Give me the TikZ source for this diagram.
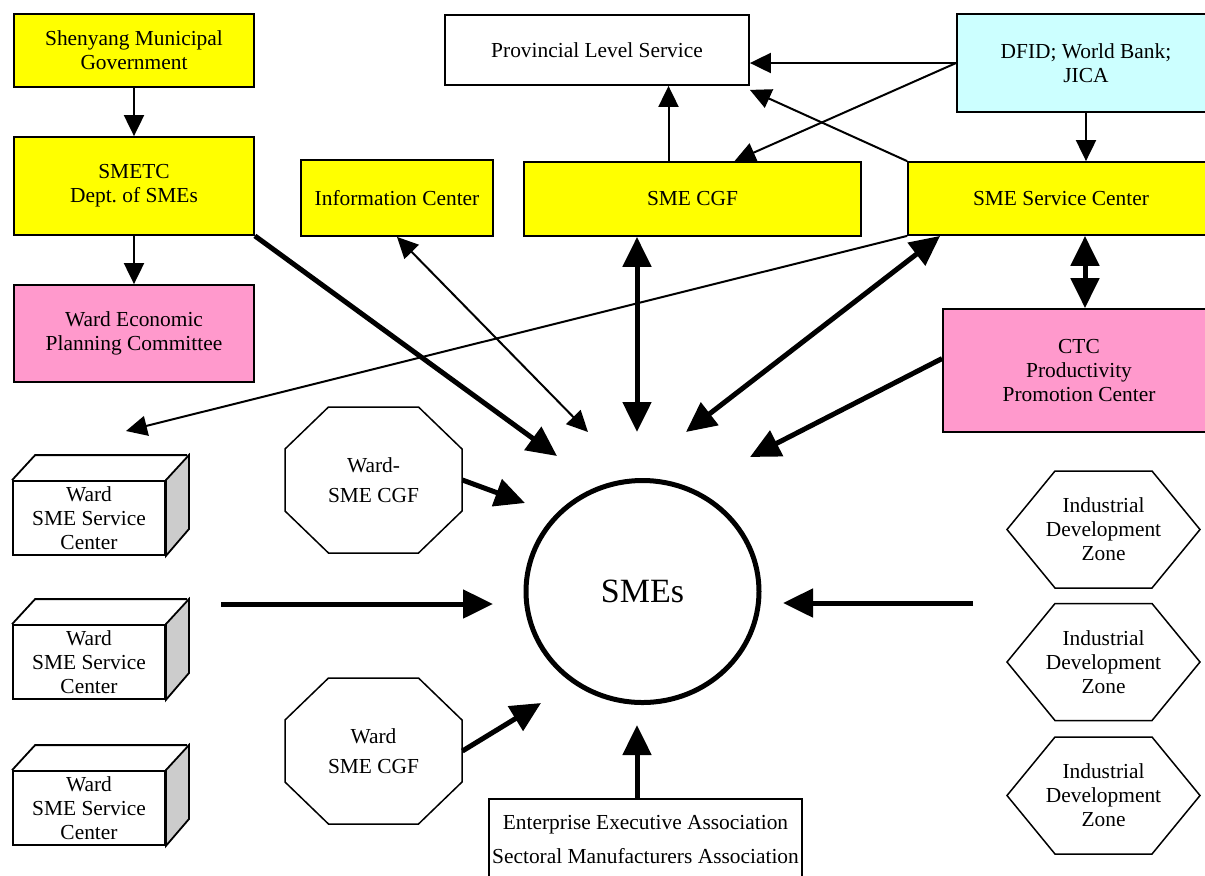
\documentclass[tikz,border=0pt]{standalone}
\usepackage{fontspec}
\setmainfont{Liberation Serif}
\usetikzlibrary{arrows.meta, shapes.geometric, calc}

\definecolor{smeyellow}{HTML}{FFFF00}
\definecolor{smepink}{HTML}{FF99CC}
\definecolor{smecyan}{HTML}{CCFFFF}
\definecolor{sidegray}{HTML}{CCCCCC}

\begin{document}
\begin{tikzpicture}[
  x=0.5pt, y=-0.5pt,
  every node/.style={font=\fontsize{10.7}{12}\selectfont, align=center},
  box/.style={draw, rectangle, line width=0.9pt, inner sep=1pt},
  ybox/.style={box, fill=smeyellow},
  pbox/.style={box, fill=smepink},
  cgfoct/.style={minimum width=88.5pt, minimum height=73pt},
  outline/.style={line width=0.75pt},
  thin arrow/.style={line width=1pt, -{Triangle[length=10.5pt,width=10pt]}},
  thin both/.style={line width=1pt, {Triangle[length=10.5pt,width=10pt]}-{Triangle[length=10.5pt,width=10pt]}},
  thick arrow/.style={line width=2.5pt, -{Triangle[length=15pt,width=14pt]}},
  thick both/.style={line width=2.5pt, {Triangle[length=15pt,width=14pt]}-{Triangle[length=15pt,width=14pt]}}]

  \useasboundingbox (0,0) rectangle (1205,875);

  % top left column
  \node[ybox, minimum width=120pt, minimum height=36.5pt] (gov) at (134,50.5) {Shenyang Municipal\\Government};
  \node[ybox, minimum width=120pt, minimum height=49pt] (smetc) at (134,186) {SMETC\\Dept.\ of SMEs};
  \node[pbox, minimum width=120pt, minimum height=48.5pt] (wepc) at (134,333.5) {Ward Economic\\Planning Committee};

  % top row
  \node[box, minimum width=152pt, minimum height=35pt] (prov) at (597,50) {Provincial Level Service};
  \node[box, fill=smecyan, minimum width=129pt, minimum height=49pt] (dfid) at (1086,63) {DFID; World Bank;\\JICA};
  \node[ybox, minimum width=96pt, minimum height=38pt] (info) at (397,198) {Information Center};
  \node[ybox, minimum width=168.5pt, minimum height=37pt] (cgf) at (692.5,199) {SME CGF};
  \node[ybox, minimum width=153pt, minimum height=36.5pt] (ssc) at (1061,198.5) {SME Service Center};
  \node[pbox, minimum width=136pt, minimum height=61.5pt] (ctc) at (1079,370.5) {CTC\\Productivity\\Promotion Center};

  % centre
  \node[draw, ellipse, line width=2.5pt, minimum width=116.5pt, minimum height=111pt,
    font=\fontsize{17}{20}\selectfont] (smes) at (642.5,591.5) {SMEs};

  % ward service centers
  \node[box, minimum width=76pt, minimum height=37pt] (wsc1) at (89,518) {Ward\\SME Service\\Center};
  \node[box, minimum width=76pt, minimum height=37pt] (wsc2) at (89,662) {Ward\\SME Service\\Center};
  \node[box, minimum width=76pt, minimum height=37pt] (wsc3) at (89,808) {Ward\\SME Service\\Center};
  \draw[line width=0.9pt, fill=sidegray] (wsc1.north east) -- ++(23,-25) -- ++(0,74) -- (wsc1.south east) -- cycle;
  \draw[line width=0.9pt] (wsc1.north west) -- ++(23,-25) -- ++(152,0);
  \draw[line width=0.9pt, fill=sidegray] (wsc2.north east) -- ++(23,-25) -- ++(0,74) -- (wsc2.south east) -- cycle;
  \draw[line width=0.9pt] (wsc2.north west) -- ++(23,-25) -- ++(152,0);
  \draw[line width=0.9pt, fill=sidegray] (wsc3.north east) -- ++(23,-25) -- ++(0,74) -- (wsc3.south east) -- cycle;
  \draw[line width=0.9pt] (wsc3.north west) -- ++(23,-25) -- ++(152,0);

  % ward CGFs
  \node[cgfoct] (wcgf1) at (373.5,480) {Ward-\\[3pt]SME CGF};
  \node[cgfoct] (wcgf2) at (373.5,751) {Ward\\[3pt]SME CGF};
  \draw[outline] ($(wcgf1.center)+(-88.5,-31)$) -- ++(43.5,-42) -- ++(90,0) -- ++(43.5,42) -- ++(0,62) -- ++(-43.5,42) -- ++(-90,0) -- ++(-43.5,-42) -- cycle;
  \draw[outline] ($(wcgf2.center)+(-88.5,-31)$) -- ++(43.5,-42) -- ++(90,0) -- ++(43.5,42) -- ++(0,62) -- ++(-43.5,42) -- ++(-90,0) -- ++(-43.5,-42) -- cycle;

  % industrial zones
  \node (idz1) at (1103.5,529.5) {Industrial\\Development\\Zone};
  \node (idz2) at (1103.5,662) {Industrial\\Development\\Zone};
  \node (idz3) at (1103.5,795.5) {Industrial\\Development\\Zone};
  \draw[outline] ($(idz1.center)+(-96.5,0)$) -- ++(48,-58.5) -- ++(97,0) -- ++(48,58.5) -- ++(-48,58.5) -- ++(-97,0) -- cycle;
  \draw[outline] ($(idz2.center)+(-96.5,0)$) -- ++(48,-58.5) -- ++(97,0) -- ++(48,58.5) -- ++(-48,58.5) -- ++(-97,0) -- cycle;
  \draw[outline] ($(idz3.center)+(-96.5,0)$) -- ++(48,-58.5) -- ++(97,0) -- ++(48,58.5) -- ++(-48,58.5) -- ++(-97,0) -- cycle;

  % associations
  \node[box, anchor=north, minimum width=156.5pt, minimum height=45pt] (assoc) at (645.5,798) {};
  \node (assoctxt) at (645.5,840) {Enterprise Executive Association\\[5pt]Sectoral Manufacturers Association};

  % free ends around the SMEs
  \coordinate (wtip) at (126,431);
  \coordinate (t-smetc) at (557,456);
  \coordinate (t-info) at (588,432);
  \coordinate (t-cgf) at (637,432);
  \coordinate (t-ssc) at (686,432);
  \coordinate (t-ctc) at (750,457);
  \coordinate (t-oct1) at (525,503);
  \coordinate (t-oct2) at (541,703);
  \coordinate (s-wsc) at (221,604);
  \coordinate (t-wsc) at (493,604);
  \coordinate (s-idz) at (973,603);
  \coordinate (t-idz) at (783,603);
  \coordinate (t-assoc) at (637,725);

  % thin links
  \draw[thin arrow] (gov) -- (smetc);
  \draw[thin arrow] (smetc) -- (wepc);
  \draw[thin arrow] (dfid.west) -- (dfid.west -| prov.east);
  \draw[thin arrow] (dfid.west) -- ([xshift=21pt]cgf.north);
  \draw[thin arrow] (dfid.south) -- (dfid.south |- ssc.north);
  \draw[thin arrow] ([xshift=-12pt]cgf.north) -- ([xshift=-12pt]cgf.north |- prov.south);
  \draw[thin arrow] (ssc.north west) -- ([yshift=-2pt]prov.south east);
  \draw[thin arrow] (ssc.south west) -- (wtip);
  \draw[thin both] (info.south) -- (t-info);

  % thick links
  \draw[thick arrow] (smetc.south east) -- (t-smetc);
  \draw[thick both] ([xshift=-27.75pt]cgf.south) -- (t-cgf);
  \draw[thick both] ([xshift=16.5pt]ssc.south west) -- (t-ssc);
  \draw[thick both] ([xshift=12pt]ssc.south) -- ([xshift=12pt]ssc.south |- ctc.north);
  \draw[thick arrow] ([yshift=6pt]ctc.west) -- (t-ctc);
  \draw[thick arrow] (wcgf1.east) -- (t-oct1);
  \draw[thick arrow] (wcgf2.east) -- (t-oct2);
  \draw[thick arrow] (s-wsc) -- (t-wsc);
  \draw[thick arrow] (s-idz) -- (t-idz);
  \draw[thick arrow] ([xshift=-4.25pt]assoc.north) -- (t-assoc);
\end{tikzpicture}
\end{document}
